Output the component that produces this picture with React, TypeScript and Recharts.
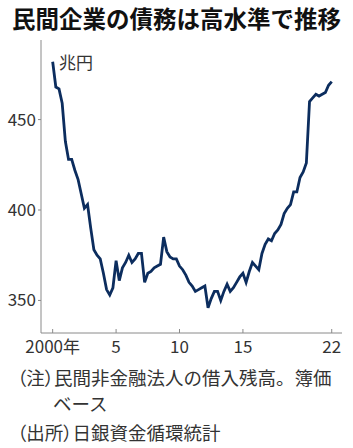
import React from 'react';
import { LineChart, Line, XAxis, YAxis } from 'recharts';

// 民間非金融法人の借入残高（兆円、四半期、2000年1-3月〜2022年1-3月）
const startYear = 2000;
const debtValues = [
  482, 468, 467, 459, // 2000
  438, 428, 428, 422, // 2001
  417, 409, 401, 403, // 2002
  390, 378, 375, 373, // 2003
  365, 356, 353, 357, // 2004
  372, 361, 368, 371, // 2005
  375, 371, 373, 376, // 2006
  376, 360, 365, 366, // 2007
  368, 369, 370, 385, // 2008
  377, 374, 373, 373, // 2009
  369, 367, 364, 360, // 2010
  358, 355, 356, 357, // 2011
  358, 346, 351, 355, // 2012
  355, 350, 355, 359, // 2013
  355, 357, 360, 363, // 2014
  365, 360, 366, 371, // 2015
  369, 367, 376, 381, // 2016
  384, 383, 387, 389, // 2017
  392, 398, 401, 403, // 2018
  410, 410, 418, 421, // 2019
  426, 460, 462, 464, // 2020
  463, 464, 465, 469, // 2021
  471, // 2022
];
const yearTicks = [2000, 2005, 2010, 2015, 2022];
const valueTicks = [350, 400, 450];

const data = debtValues.map((v, i) => ({ year: startYear + i / 4, debt: v }));

const AXIS = '#8a8a8a';
const TEXT = '#333';
const LINE = '#0c2d5e';
const CJK = '"Noto Sans CJK JP", "Noto Sans", sans-serif';
const NUM = '"Liberation Sans Narrow", "Noto Sans CJK JP", sans-serif';

const yearLabel = (v: number) => (v === 2000 ? '2000年' : String(v % 100));

const XTick = (props: any) => {
  const { x, y, payload } = props;
  return (
    <g>
      <line x1={x} x2={x} y1={y} y2={y - 4} stroke={AXIS} strokeWidth={1} />
      <text x={x} y={y + 20} textAnchor="middle" fill={TEXT} fontSize={17} fontFamily={NUM}>
        {yearLabel(payload.value)}
      </text>
    </g>
  );
};

export default function App() {
  return (
    <div style={{ position: 'absolute', left: 0, top: 0, width: 353, height: 448, background: '#fff', fontFamily: CJK, color: TEXT }}>
      <div style={{ position: 'absolute', left: 0, top: 7, width: 353, textAlign: 'center', fontSize: 23.5, fontWeight: 700, lineHeight: 1, color: '#111' }}>
        民間企業の債務は高水準で推移
      </div>
      <LineChart width={353} height={360} data={data} margin={{ top: 40, right: 11, bottom: 0, left: 0 }}>
        <XAxis
          dataKey="year"
          type="number"
          domain={[1999.08, 2022.81]}
          ticks={yearTicks}
          interval={0}
          height={27}
          stroke={AXIS}
          tickSize={0}
          tickMargin={0}
          tickLine={false}
          tick={<XTick />}
          allowDataOverflow
        />
        <YAxis
          type="number"
          domain={[332, 494]}
          ticks={valueTicks}
          width={41}
          stroke={AXIS}
          tickSize={3}
          tickMargin={2}
          tick={{ fill: TEXT, fontSize: 17, fontFamily: NUM }}
          allowDataOverflow
        />
        <Line
          type="linear"
          dataKey="debt"
          stroke={LINE}
          strokeWidth={2.8}
          dot={false}
          isAnimationActive={false}
        />
      </LineChart>
      <div style={{ position: 'absolute', left: 59, top: 53, fontSize: 17, lineHeight: 1 }}>兆円</div>
      <div style={{ position: 'absolute', left: 17, top: 368, fontSize: 18.5, lineHeight: 1, whiteSpace: 'nowrap' }}>
        <span style={{ fontFeatureSettings: '"palt"' }}>（注）</span>民間非金融法人の借入残高。簿価
      </div>
      <div style={{ position: 'absolute', left: 53, top: 394, fontSize: 18.5, lineHeight: 1 }}>ベース</div>
      <div style={{ position: 'absolute', left: 17, top: 423, fontSize: 18.5, lineHeight: 1, whiteSpace: 'nowrap' }}>
        <span style={{ fontFeatureSettings: '"palt"' }}>（出所）</span>日銀資金循環統計
      </div>
    </div>
  );
}
